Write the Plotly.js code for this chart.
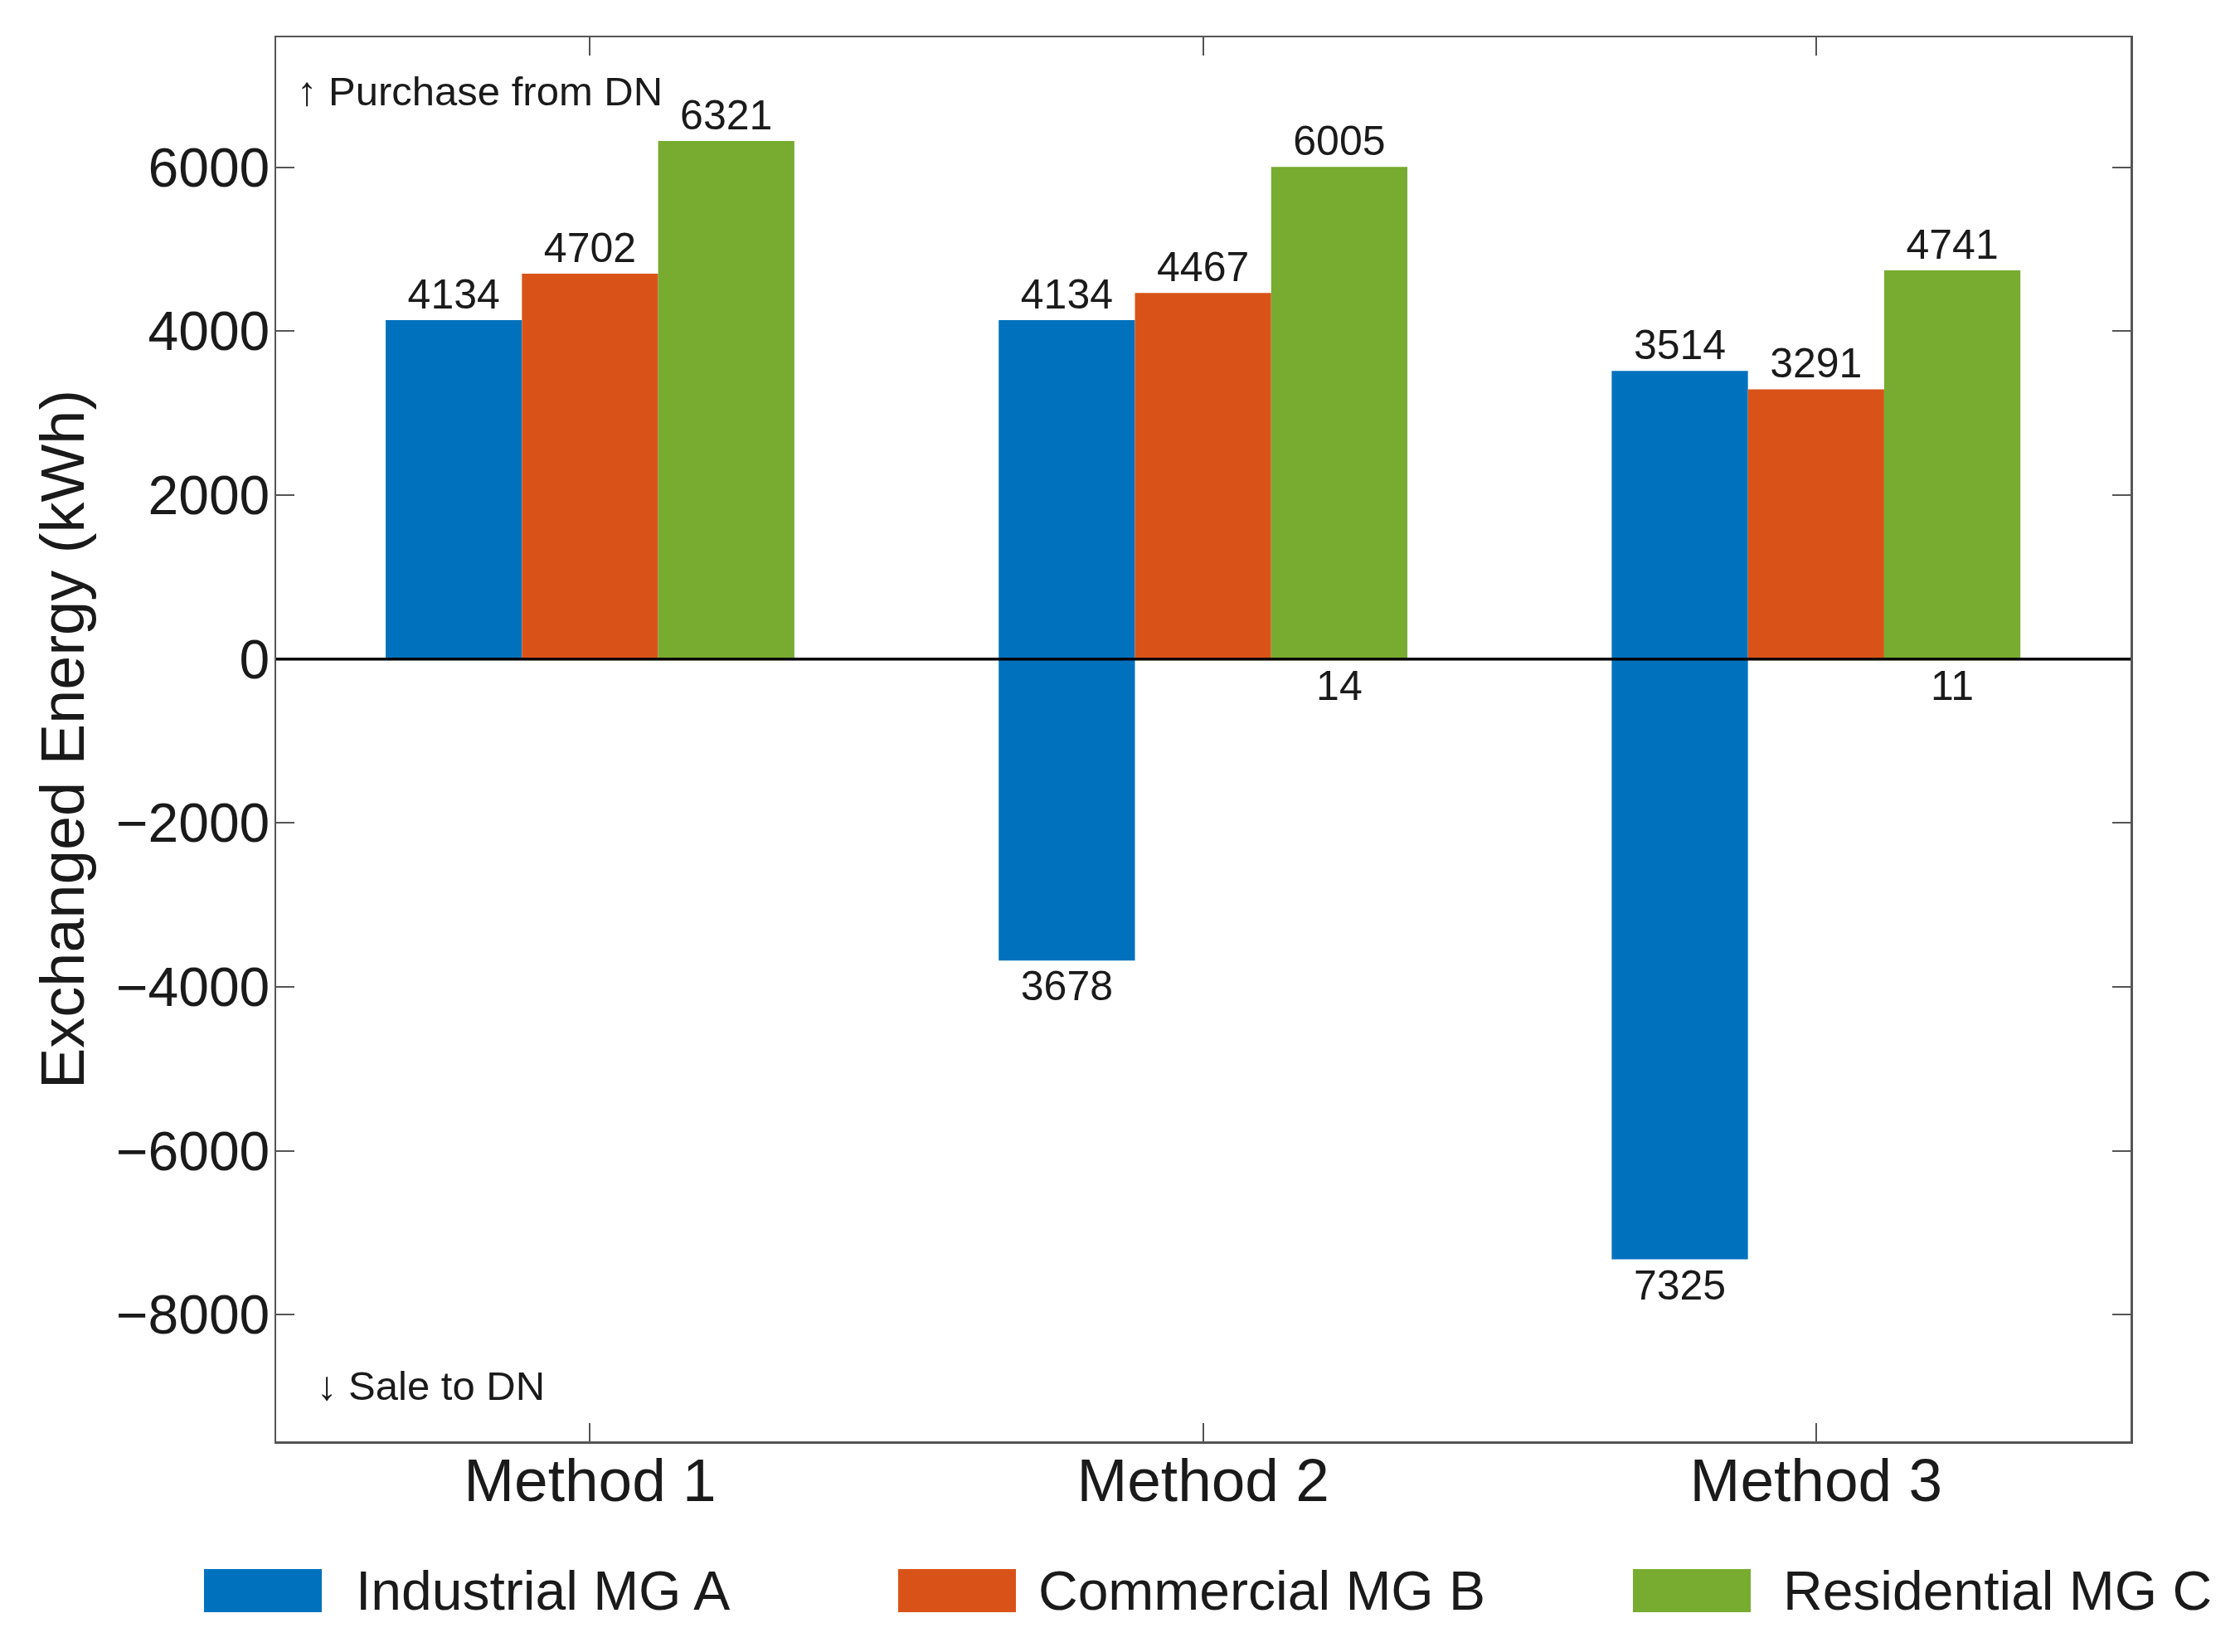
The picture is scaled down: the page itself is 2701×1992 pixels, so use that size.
<!DOCTYPE html>
<html>
<head>
<meta charset="utf-8">
<script src="https://cdn.plot.ly/plotly-3.0.1.min.js"></script>
<style>html,body{margin:0;padding:0;background:#fff;}#chart{width:2701px;height:1992px;}</style>
</head>
<body>
<div id="chart"></div>
<script>
// ---- data ----
const methods = ["Method 1", "Method 2", "Method 3"];
const seriesNames = ["Industrial MG A", "Commercial MG B", "Residential MG C"];
const purchaseA = [4134, 4134, 3514];
const purchaseB = [4702, 4467, 3291];
const purchaseC = [6321, 6005, 4741];
const saleA = [0, 3678, 7325];
const saleB = [0, 0, 0];
const saleC = [0, 14, 11];
const yTickVals = [-8000, -6000, -4000, -2000, 0, 2000, 4000, 6000];
const annoUp = "↑ Purchase from DN";
const annoDown = "↓ Sale to DN";

// ---- styling ----
const colors = ["#0072BD", "#D95319", "#77AC30"];
const FONT = "Arial, 'Liberation Sans', Helvetica, sans-serif";
const W = 2701, H = 1992;
const L = 333, R = 2569, T = 45, B = 1738;
const px2x = p => (p - L) / (R - L);
const px2y = p => (B - p) / (B - T);

const purchases = [purchaseA, purchaseB, purchaseC];
const sales = [saleA, saleB, saleC];
const traces = [];
for (let i = 0; i < 3; i++) {
  traces.push({
    type: "bar", x: methods, y: purchases[i], name: seriesNames[i],
    offsetgroup: String(i), marker: {color: colors[i], line: {width: 0}},
    text: purchases[i].map(v => v ? String(v) : ""), textposition: "outside",
    textfont: {family: FONT, size: 50, color: "#1a1a1a"},
    constraintext: "none", cliponaxis: false, showlegend: false, hoverinfo: "skip"
  });
}
for (let i = 0; i < 3; i++) {
  traces.push({
    type: "bar", x: methods, y: sales[i].map(v => -v), name: seriesNames[i] + " (sale)",
    offsetgroup: String(i), marker: {color: colors[i], line: {width: 0}},
    text: sales[i].map(v => v ? String(v) : ""), textposition: "outside",
    textfont: {family: FONT, size: 50, color: "#1a1a1a"},
    constraintext: "none", cliponaxis: false, showlegend: false, hoverinfo: "skip"
  });
}

// custom legend (large swatches like the original)
const legSw = [[246, 388], [1083, 1225], [1969, 2111]];
const legTx = [427, 1250, 2148];
const shapes = [{
  type: "line", xref: "paper", yref: "y", x0: 0, x1: 1, y0: 0, y1: 0,
  line: {color: "#000", width: 3.5}, layer: "above"
}];
const annotations = [
  {text: annoUp, xref: "paper", yref: "paper", x: px2x(356), y: px2y(110), xanchor: "left", yanchor: "middle",
   showarrow: false, font: {family: FONT, size: 49, color: "#1a1a1a"}},
  {text: annoDown, xref: "paper", yref: "paper", x: px2x(380), y: px2y(1671), xanchor: "left", yanchor: "middle",
   showarrow: false, font: {family: FONT, size: 49, color: "#1a1a1a"}}
];
for (let i = 0; i < 3; i++) {
  shapes.push({type: "rect", xref: "paper", yref: "paper",
    x0: px2x(legSw[i][0]), x1: px2x(legSw[i][1]), y0: px2y(1892), y1: px2y(1944),
    fillcolor: colors[i], line: {width: 0}});
  annotations.push({text: seriesNames[i], xref: "paper", yref: "paper", x: px2x(legTx[i]), y: px2y(1918),
    xanchor: "left", yanchor: "middle", showarrow: false, font: {family: FONT, size: 66, color: "#1a1a1a"}});
}

const layout = {
  width: W, height: H,
  margin: {l: L, r: W - R, t: T, b: H - B, pad: 0},
  paper_bgcolor: "#fff", plot_bgcolor: "#fff",
  barmode: "group", bargap: 1/3, bargroupgap: 0,
  showlegend: false,
  font: {family: FONT, color: "#1a1a1a"},
  xaxis: {
    type: "category", range: [-0.512, 2.513],
    showline: true, mirror: "ticks", linecolor: "#555", linewidth: 2.5,
    ticks: "inside", ticklen: 22, tickwidth: 2, tickcolor: "#555",
    tickfont: {family: FONT, size: 73, color: "#1a1a1a"},
    showgrid: false, zeroline: false, ticklabelstandoff: -18
  },
  yaxis: {
    range: [-9545, 7585], tickmode: "array", tickvals: yTickVals,
    showline: true, mirror: "ticks", linecolor: "#555", linewidth: 2.5,
    ticks: "inside", ticklen: 22, tickwidth: 2, tickcolor: "#555",
    tickfont: {family: FONT, size: 66, color: "#1a1a1a"},
    showgrid: false, zeroline: false, ticklabelstandoff: -8,
    title: {text: "Exchanged Energy (kWh)", font: {family: FONT, size: 74, color: "#1a1a1a"}, standoff: 14}
  },
  shapes: shapes, annotations: annotations
};

Plotly.newPlot("chart", traces, layout, {staticPlot: true, displayModeBar: false});
</script>
</body>
</html>
